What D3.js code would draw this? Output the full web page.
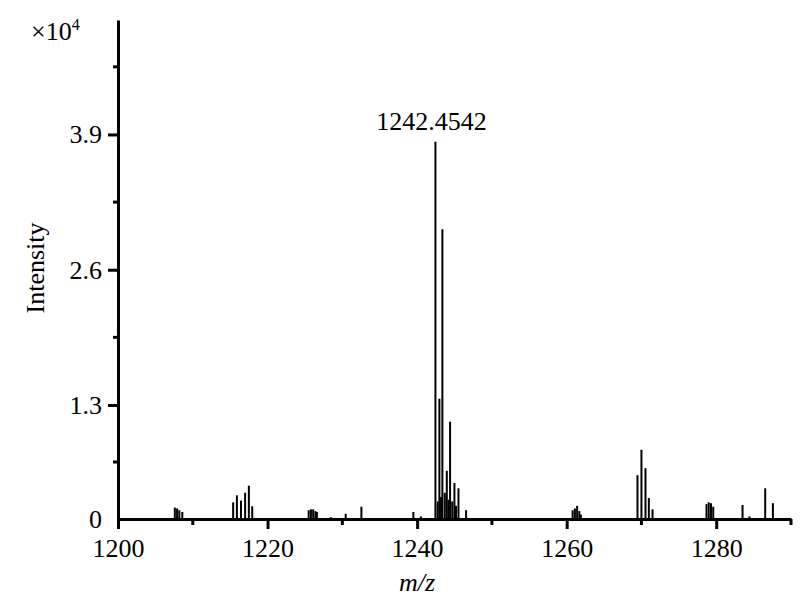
<!DOCTYPE html>
<html>
<head>
<meta charset="utf-8">
<script src="https://cdn.jsdelivr.net/npm/d3@7/dist/d3.min.js"></script>
<style>
  body { margin: 0; background: #fff; }
  text { font-family: "Liberation Serif", "Times New Roman", serif; fill: #000; }
</style>
</head>
<body>
<div id="chart"></div>
<script>
// peak list (intensity in units of 1e4)
var peakMz = [1207.6, 1207.9, 1208.2, 1208.6,
              1215.4, 1215.9, 1216.45, 1217.0, 1217.5, 1217.95,
              1225.5, 1225.8, 1226.1, 1226.4, 1226.6,
              1228.45, 1230.45, 1232.55, 1239.5, 1240.5,
              1242.45, 1242.75, 1242.98, 1243.2, 1243.38, 1243.7, 1243.97, 1244.2, 1244.41, 1244.7, 1244.99, 1245.2, 1245.53, 1246.55,
              1260.8, 1261.1, 1261.4, 1261.7, 1261.9,
              1269.47, 1270.0, 1270.54, 1270.99, 1271.48,
              1278.7, 1279.0, 1279.3, 1279.6,
              1283.52, 1284.45, 1286.55, 1287.58];
var peakInt = [0.13, 0.12, 0.10, 0.08,
               0.19, 0.27, 0.21, 0.30, 0.38, 0.145,
               0.10, 0.11, 0.11, 0.09, 0.08,
               0.02, 0.06, 0.14, 0.08, 0.03,
               3.83, 0.20, 1.36, 0.25, 2.99, 0.30, 0.55, 0.22, 1.11, 0.20, 0.41, 0.15, 0.35, 0.10,
               0.10, 0.12, 0.15, 0.09, 0.05,
               0.50, 0.79, 0.58, 0.24, 0.11,
               0.17, 0.19, 0.18, 0.14,
               0.16, 0.03, 0.35, 0.18];

var xTicks = [1200, 1220, 1240, 1260, 1280];
var xMinor = [1210, 1230, 1250, 1270, 1290];
var yTicks = [0, 1.3, 2.6, 3.9];
var yMinor = [0.65, 1.95, 3.25, 4.55];
var peakLabel = "1242.4542";
var labelMz = 1242.45;

var width = 800, height = 606;

var svg = d3.select("#chart").append("svg")
            .attr("width", width)
            .attr("height", height);

var xScale = d3.scaleLinear()
               .domain([1200, 1290])
               .range([118, 791]);

// the zero line sits a little closer to 1.3 than the other tick steps
var yScale = d3.scaleLinear()
               .domain([0, 1.3, 5.0])
               .range([519, 405, 20]);

// peaks
svg.append("g").selectAll("line")
   .data(peakMz)
   .enter().append("line")
   .attr("x1", function(d) { return xScale(d); })
   .attr("x2", function(d) { return xScale(d); })
   .attr("y1", yScale(0))
   .attr("y2", function(d, i) { return yScale(peakInt[i]); })
   .attr("stroke", "#000")
   .attr("stroke-width", 2);

// y axis
var yAxis = d3.axisLeft(yScale)
              .tickValues(yTicks)
              .tickSize(10)
              .tickSizeOuter(0)
              .tickPadding(6)
              .tickFormat(function(d) { return d === 0 ? "0" : d.toFixed(1); });

var gy = svg.append("g")
            .attr("transform", "translate(" + xScale(1200) + ",0)")
            .call(yAxis);
gy.select(".domain").attr("stroke-width", 3);
gy.selectAll(".tick line").attr("stroke-width", 3)
  .filter(function(d) { return d === 0; }).remove();
gy.selectAll(".tick text").style("font-size", "26px").style("font-family", "Liberation Serif");

svg.append("g").selectAll("line")
   .data(yMinor)
   .enter().append("line")
   .attr("x1", xScale(1200) - 5)
   .attr("x2", xScale(1200))
   .attr("y1", function(d) { return yScale(d); })
   .attr("y2", function(d) { return yScale(d); })
   .attr("stroke", "#000")
   .attr("stroke-width", 3);

// x axis
var xAxis = d3.axisBottom(xScale)
              .tickValues(xTicks)
              .tickSize(10)
              .tickSizeOuter(0)
              .tickPadding(10)
              .tickFormat(d3.format("d"));

var gx = svg.append("g")
            .attr("transform", "translate(0," + yScale(0) + ")")
            .call(xAxis);
gx.select(".domain").attr("stroke-width", 3);
gx.selectAll(".tick line").attr("stroke-width", 3);
gx.selectAll(".tick text").style("font-size", "26px").style("font-family", "Liberation Serif");

svg.append("g").selectAll("line")
   .data(xMinor)
   .enter().append("line")
   .attr("x1", function(d) { return xScale(d); })
   .attr("x2", function(d) { return xScale(d); })
   .attr("y1", yScale(0))
   .attr("y2", yScale(0) + 6)
   .attr("stroke", "#000")
   .attr("stroke-width", 3);

// axis titles
svg.append("text")
   .attr("transform", "translate(44," + 268 + ") rotate(-90)")
   .attr("text-anchor", "middle")
   .style("font-size", "26px")
   .text("Intensity");

svg.append("text")
   .attr("x", xScale(1240))
   .attr("y", 591)
   .attr("text-anchor", "middle")
   .style("font-size", "26px")
   .style("font-style", "italic")
   .text("m/z");

var mult = svg.append("text")
              .attr("x", 31)
              .attr("y", 40)
              .style("font-size", "26px");
mult.append("tspan").text("\u00d710");
mult.append("tspan").attr("dy", -10).style("font-size", "16px").text("4");

// peak annotation
svg.append("text")
   .attr("x", xScale(labelMz) - 4)
   .attr("y", 130)
   .attr("text-anchor", "middle")
   .style("font-size", "26px")
   .text(peakLabel);
</script>
</body>
</html>
